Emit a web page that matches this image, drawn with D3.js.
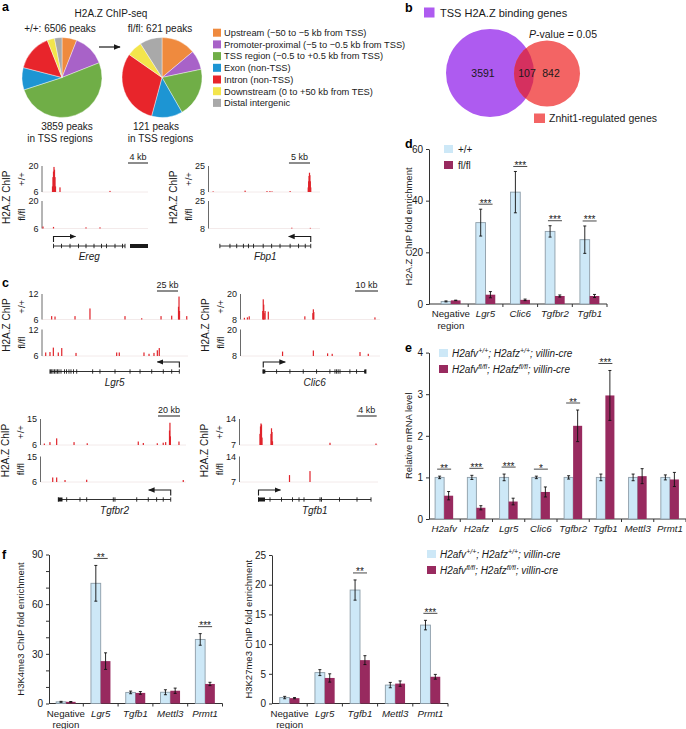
<!DOCTYPE html>
<html><head><meta charset="utf-8">
<script src="https://cdn.jsdelivr.net/npm/d3@7"></script>
<style>body{margin:0;background:#fff}svg{display:block}</style>
</head><body>
<svg id="chart" width="686" height="729"></svg>
<script>
// ================= DATA =================
const pieCategories = ["Upstream (−50 to −5 kb from TSS)","Promoter-proximal (−5 to −0.5 kb from TSS)","TSS region (−0.5 to +0.5 kb from TSS)","Exon (non-TSS)","Intron (non-TSS)","Downstream (0 to +50 kb from TES)","Distal intergenic"];
const pieColors = ["#EF8A3E","#A862C8","#70AE47","#1D95D3","#E8252B","#F3E54C","#A9A9A9"];
const pieWT = [6,13,51,9,15,3,3];
const pieKO = [13.9,7.8,20,12.5,30.5,6.3,9];
const pieTitles = ["+/+: 6506 peaks","fl/fl: 621 peaks"];
const pieTss = [["3859 peaks","in TSS regions"],["121 peaks","in TSS regions"]];

const vennSets = ["TSS H2A.Z binding genes","Znhit1-regulated genes"];
const vennCounts = [3591,107,842];

const dCats = ["Negative region","Lgr5","Clic6","Tgfbr2","Tgfb1"];
const dWT = [1.0,31.5,43.3,28.1,24.9];
const dWTerr = [0.2,5.2,8.0,2.2,5.3];
const dKO = [1.4,3.6,1.6,3.1,3.1];
const dKOerr = [0.1,1.2,0.3,0.4,0.6];
const dSig = ["","***","***","***","***"];
const dTicks = [0,20,40,60];

const eCats = ["H2afv","H2afz","Lgr5","Clic6","Tgfbr2","Tgfb1","Mettl3","Prmt1"];
const eWT = [1,1,1,1,1,1,1,1];
const eWTerr = [0.03,0.05,0.08,0.03,0.04,0.08,0.08,0.06];
const eKO = [0.56,0.27,0.42,0.65,2.24,2.97,1.03,0.95];
const eKOerr = [0.1,0.05,0.08,0.12,0.38,0.6,0.18,0.17];
const eSig = ["**","***","***","*","**","***","",""];
const eTicks = [0,1,2,3,4];

const fCats = ["Negative region","Lgr5","Tgfb1","Mettl3","Prmt1"];
const fK4WT = [1.0,72.6,6.7,6.8,38.7];
const fK4WTerr = [0.3,10.8,0.8,1.5,3.5];
const fK4KO = [1.0,25.6,6.4,7.7,11.8];
const fK4KOerr = [0.2,5.0,0.8,1.6,1.0];
const fK4Sig = ["","**","","","***"];
const fK4Ticks = [0,10,20,30,40,50,60,70,80,90];
const fK27WT = [1.0,5.2,19.1,3.1,13.2];
const fK27WTerr = [0.2,0.5,1.7,0.45,0.8];
const fK27KO = [0.9,4.3,7.3,3.35,4.5];
const fK27KOerr = [0.1,0.7,0.75,0.45,0.4];
const fK27Sig = ["","","**","","***"];
const fK27Ticks = [0,5,10,15,20,25];

// genome tracks: [position kb, signal]
const eregWT = [[2.1,9],[2.2,14],[2.3,17],[2.4,19.5],[2.5,18],[2.6,14],[2.7,9],[3.6,8.5],[13.6,6.6]];
const eregKO = [[0.2,7],[2.3,6.8],[8.8,6.6],[11.6,6.6]];
const eregExons = [2.3,3.9,5.6,7.3,8.8,10.4,11.9,12.9,14.6,16.1,16.6];
const fbp1WT = [[1.1,8.4],[8.7,8.9],[13.9,8.6],[14.6,8.6],[15.1,8.4],[19.4,8.6],[23.7,11],[23.8,15],[23.9,18.5],[24.0,20.6],[24.1,19],[24.2,15],[24.3,11]];
const fbp1KO = [[19.8,8.5],[24.2,8.4]];
const fbp1Exons = [2.7,5.1,6.7,8.3,9.5,10.7,13.0,15.0,17.0,19.4,21.4,23.0,24.3];
const lgr5WT = [[11.5,6.8],[15.5,6.7],[39.3,6.8],[57.1,8.6],[98.8,6.8],[118.7,6.3],[141.7,6.8],[154.4,6.9],[162.5,9],[163.1,11.4],[163.7,8],[172.3,6.8]];
const lgr5KO = [[4.4,6.8],[9.5,6.9],[13.5,7.9],[19.4,6.8],[23.5,7.8],[40.5,6.7],[88.9,6.8],[92.0,6.8],[121.4,6.8],[127.4,6.5],[133.3,6.7],[137.3,7.3],[139.6,7.8]];
const lgr5Exons = [9.5,11.5,13.1,14.9,16.7,18.5,20.2,22.6,26.8,29.2,32.1,34.5,37.5,41.3,60.3,69.0,86.9,104.8,116.7,130.6,144.4,154.4,163.5];
const clic6WT = [[1.7,8.8],[3.0,9],[3.8,9.5],[9.7,12],[9.9,17.5],[10.1,15],[10.3,11],[10.7,12],[12.1,11.7],[28.0,9.5],[31.5,11],[31.7,12.8],[31.9,11.5],[58.5,9]];
const clic6KO = [[18.3,10],[31.7,10.5],[37.9,9.2],[39.9,9],[52.0,9.8],[55.6,9]];
const clic6Exons = [9.9,15.7,21.5,27.3,33.1,38.9,41.1,41.8,42.5,43.3,47.6,50.5,54.6];
const tgfbr2WT = [[3.5,6.5],[8.6,7],[14.7,8.3],[30.5,7],[42.5,6.6],[88.9,7.2],[93.5,6.7],[106.2,6.6],[111.6,6.8],[113.8,7],[117.3,11],[117.7,13.7],[118.1,9],[125.9,7.2]];
const tgfbr2KO = [[11.1,7.6],[14.7,7.6],[22.3,6.7],[42.0,6.8],[129.8,6.7]];
const tgfbr2Exons = [16.2,23.8,35.9,42,66.2,67.7,87.5,98,105.6,111.6,118.4];
const tgfb1WT = [[4.1,10],[4.2,12],[4.3,12.8],[4.4,12.5],[4.5,9],[6.3,10],[6.4,11.5],[6.5,10.5],[6.6,8],[18.1,7.6],[27.3,7.4]];
const tgfb1KO = [[10.0,8.9],[14.1,10.0]];
const tgfb1Exons = [3.8,6.1,8.4,10.6,11.9,12.9,16.1,16.4,20.0,23.5,26.3];

// ================= HELPERS =================
const svg = d3.select("#chart");
const FONT = "'Liberation Sans', Arial, Helvetica, sans-serif";
const INK = "#1a1a1a";
function T(g,x,y,s,o={}){
  const t=g.append("text").attr("x",x).attr("y",y).attr("font-family",FONT)
    .attr("font-size",o.size||10).attr("fill",o.fill||INK).attr("text-anchor",o.anchor||"start");
  if(o.italic) t.attr("font-style","italic");
  if(o.bold) t.attr("font-weight","bold");
  t.text(s); return t;
}
function RT(g,cx,cy,s,o={}){
  const sz=o.size||10;
  const t=g.append("text").attr("transform",`translate(${cx+sz*0.36},${cy}) rotate(-90)`)
    .attr("text-anchor","middle").attr("font-family",FONT).attr("font-size",sz).attr("fill",o.fill||INK);
  if(o.italic) t.attr("font-style","italic");
  t.text(s); return t;
}
svg.append("defs").append("marker").attr("id","ah").attr("viewBox","0 0 10 10")
  .attr("refX",9).attr("refY",5).attr("markerWidth",6).attr("markerHeight",6).attr("orient","auto")
  .append("path").attr("d","M0,1 L10,5 L0,9 Z").attr("fill",INK);

// panel letters
[["a",2,11],["b",405,12],["c",2,287],["d",405,148],["e",405,352],["f",2,559]].forEach(l=>T(svg,l[1],l[2],l[0],{size:12.5,bold:true,fill:"#000"}));

// ================= PANEL A: PIES =================
{
  const g=svg.append("g");
  T(g,111,17,"H2A.Z ChIP-seq",{anchor:"middle",size:10});
  const pie=d3.pie().sort(null).value(d=>d);
  const arc=d3.arc().innerRadius(0).outerRadius(40);
  [[pieWT,62],[pieKO,162]].forEach((p,i)=>{
    const cg=g.append("g").attr("transform",`translate(${p[1]},77.5)`);
    cg.selectAll("path").data(pie(p[0])).join("path").attr("d",arc)
      .attr("fill",(d,j)=>pieColors[j]).attr("stroke","#fff").attr("stroke-width",0.4);
    T(g,[60,160][i],32,pieTitles[i],{anchor:"middle"});
    T(g,[67,156][i],130,pieTss[i][0],{anchor:"middle"});
    T(g,[60,160.5][i],142,pieTss[i][1],{anchor:"middle"});
  });
  g.append("line").attr("x1",99).attr("x2",120).attr("y1",47).attr("y2",47)
    .attr("stroke",INK).attr("stroke-width",1.2).attr("marker-end","url(#ah)");
  pieCategories.forEach((c,i)=>{
    const y=32.7+11.7*i;
    g.append("rect").attr("x",213).attr("y",y-4).attr("width",8).attr("height",8).attr("fill",pieColors[i]);
    T(g,224,y+3.3,c,{size:9.3});
  });
}

// ================= PANEL B: VENN =================
{
  const g=svg.append("g");
  const A={cx:490,cy:73,r:44}, B={cx:547,cy:73.5,r:33};
  g.append("clipPath").attr("id","clipA").append("circle").attr("cx",A.cx).attr("cy",A.cy).attr("r",A.r);
  g.append("circle").attr("cx",A.cx).attr("cy",A.cy).attr("r",A.r).attr("fill","#AE5BF0");
  g.append("circle").attr("cx",B.cx).attr("cy",B.cy).attr("r",B.r).attr("fill","#F36464");
  g.append("circle").attr("cx",B.cx).attr("cy",B.cy).attr("r",B.r).attr("fill","#D5305F").attr("clip-path","url(#clipA)");
  g.append("rect").attr("x",424).attr("y",7.5).attr("width",10.5).attr("height",10).attr("fill","#AE5BF0");
  T(g,440,16.5,vennSets[0],{size:11});
  g.append("rect").attr("x",534).attr("y",113.5).attr("width",11).attr("height",9.5).attr("fill","#F36464");
  T(g,549,122,vennSets[1],{size:10.5});
  T(g,483,77,vennCounts[0],{anchor:"middle",size:10.5});
  T(g,527,77,vennCounts[1],{anchor:"middle",size:10.5});
  T(g,551,77,vennCounts[2],{anchor:"middle",size:10.5});
  const pv=T(g,529,37.5,"",{size:10.5});
  pv.append("tspan").attr("font-style","italic").text("P");
  pv.append("tspan").text("-value = 0.05");
}

// ================= TRACKS =================
function locus(o){
  const g=svg.append("g");
  const xs=d3.scaleLinear().domain([0,o.span]).range([o.axisX,o.x1]);
  o.rows.forEach(r=>{
    const ys=d3.scaleLinear().domain(o.yDom).range([r.base,r.top]);
    g.append("line").attr("x1",o.axisX).attr("x2",o.x1).attr("y1",r.base).attr("y2",r.base).attr("stroke","#f0e4e4").attr("stroke-width",0.8);
    g.append("line").attr("x1",o.axisX).attr("x2",o.axisX).attr("y1",ys(o.yDom[1])).attr("y2",ys(o.yDom[0])).attr("stroke","#444").attr("stroke-width",0.8);
    o.yDom.forEach(v=>T(g,o.axisX-3.5,ys(v)+3.3,v,{anchor:"end",size:9}));
    g.selectAll(null).data(r.peaks).join("rect")
      .attr("x",d=>xs(d[0])-0.6).attr("width",1.2)
      .attr("y",d=>ys(d[1])).attr("height",d=>ys(o.yDom[0])-ys(d[1])).attr("fill","#E0242B");
    RT(g,o.axisX-20,(r.top+r.base)/2,r.label,{size:9.5});
  });
  RT(g,o.axisX-35.5,(o.rows[0].top+o.rows[1].base)/2,"H2A.Z ChIP",{size:10});
  // scale bar
  const sbLen=xs(o.scaleKb)-xs(0), sbY=o.rows[0].top-3;
  g.append("line").attr("x1",o.sbEnd-sbLen).attr("x2",o.sbEnd).attr("y1",sbY).attr("y2",sbY).attr("stroke",INK).attr("stroke-width",1);
  T(g,o.sbEnd-sbLen/2,sbY-3.5,o.scaleKb+" kb",{anchor:"middle",size:9});
  // gene model
  const gy=o.geneY, ex=o.exons, gs=xs(d3.min(ex)), ge=xs(d3.max(ex));
  g.append("line").attr("x1",gs).attr("x2",ge).attr("y1",gy).attr("y2",gy).attr("stroke",INK).attr("stroke-width",0.9);
  g.selectAll(null).data(ex).join("line").attr("x1",d=>xs(d)).attr("x2",d=>xs(d))
    .attr("y1",gy-2.2).attr("y2",gy+2.2).attr("stroke",INK).attr("stroke-width",0.9);
  (o.blocks||[]).forEach(b=>g.append("rect").attr("x",xs(b[0])).attr("width",xs(b[1])-xs(b[0])).attr("y",gy-2).attr("height",4).attr("fill",INK));
  // TSS arrow
  const tx=xs(o.tss), dir=o.strand;
  g.append("path").attr("d",`M${tx},${gy-4}V${gy-9.5}H${tx+dir*22}`).attr("fill","none")
    .attr("stroke",INK).attr("stroke-width",1.1).attr("marker-end","url(#ah)");
  T(g,(gs+ge)/2,gy+14,o.name,{anchor:"middle",italic:true,size:10});
}
locus({name:"Ereg",axisX:42,x1:148,span:21.2,yDom:[6,20],scaleKb:4,sbEnd:148,geneY:246,tss:2.3,strand:1,exons:eregExons,blocks:[[17.6,21.2]],
  rows:[{top:166,base:192,peaks:eregWT,label:"+/+"},{top:201,base:228.5,peaks:eregKO,label:"fl/fl"}]});
locus({name:"Fbp1",axisX:208.5,x1:320,span:26.5,yDom:[8,25],scaleKb:5,sbEnd:310,geneY:246,tss:24.3,strand:-1,exons:fbp1Exons,
  rows:[{top:166,base:192,peaks:fbp1WT,label:"+/+"},{top:201,base:228.5,peaks:fbp1KO,label:"fl/fl"}]});
locus({name:"Lgr5",axisX:42,x1:188,span:173.8,yDom:[6,12],scaleKb:25,sbEnd:178,geneY:371.5,tss:163.5,strand:-1,exons:lgr5Exons,blocks:[[9.5,10.5]],
  rows:[{top:294,base:319.5,peaks:lgr5WT,label:"+/+"},{top:329.5,base:356,peaks:lgr5KO,label:"fl/fl"}]});
locus({name:"Clic6",axisX:240.5,x1:380,span:60.7,yDom:[8,20],scaleKb:10,sbEnd:378,geneY:371.5,tss:9.9,strand:1,exons:clic6Exons,blocks:[[9.6,10.8],[53.8,54.6]],
  rows:[{top:294,base:319.5,peaks:clic6WT,label:"+/+"},{top:329.5,base:356,peaks:clic6KO,label:"fl/fl"}]});
locus({name:"Tgfbr2",axisX:40.5,x1:186,span:132.3,yDom:[6,15],scaleKb:20,sbEnd:180,geneY:499.5,tss:118.4,strand:-1,exons:tgfbr2Exons,blocks:[[16,20]],
  rows:[{top:419,base:445,peaks:tgfbr2WT,label:"+/+"},{top:456.5,base:482,peaks:tgfbr2KO,label:"fl/fl"}]});
locus({name:"Tgfb1",axisX:239.5,x1:378,span:27.7,yDom:[7,14],scaleKb:4,sbEnd:376.7,geneY:499.5,tss:3.8,strand:1,exons:tgfb1Exons,blocks:[[3.7,5.1]],
  rows:[{top:419,base:445,peaks:tgfb1WT,label:"+/+"},{top:456.5,base:482,peaks:tgfb1KO,label:"fl/fl"}]});

// ================= BAR CHARTS =================
const WT_FILL="#CDE8F7", WT_STROKE="#8D9DA8", KO_FILL="#982A5F";
function bars(o){
  const g=svg.append("g");
  const y=d3.scaleLinear().domain(o.yDom).range(o.yRange);
  const x=d3.scaleBand().domain(o.cats).range(o.xRange);
  const step=x.step(), bw=step*0.28;
  const ya=d3.axisLeft(y).tickValues(o.ticks).tickSize(3).tickSizeOuter(0).tickPadding(3)
    .tickFormat(v=>o.labelTicks? (o.labelTicks.includes(v)?v:"") : v);
  const ag=g.append("g").attr("transform",`translate(${o.axisX},0)`).call(ya);
  ag.select(".domain").attr("stroke","#333");
  ag.selectAll(".tick line").attr("stroke","#333");
  ag.selectAll("text").attr("font-family",FONT).attr("font-size",10).attr("fill",INK);
  const y0=y(0);
  g.append("line").attr("x1",o.axisX).attr("x2",o.xRange[1]).attr("y1",y0).attr("y2",y0).attr("stroke","#333");
  o.cats.forEach((c,i)=>{ const bx=x(c)+step; g.append("line").attr("x1",bx).attr("x2",bx).attr("y1",y0).attr("y2",y0+3).attr("stroke","#333"); });
  o.cats.forEach((c,i)=>{
    const cx=x(c)+step/2;
    g.append("rect").attr("x",cx-bw).attr("width",bw).attr("y",y(o.wt[i])).attr("height",y0-y(o.wt[i]))
      .attr("fill",WT_FILL).attr("stroke",WT_STROKE).attr("stroke-width",0.9);
    g.append("rect").attr("x",cx).attr("width",bw).attr("y",y(o.ko[i])).attr("height",y0-y(o.ko[i])).attr("fill",KO_FILL);
    [[cx-bw/2,o.wt[i],o.wtErr[i]],[cx+bw/2,o.ko[i],o.koErr[i]]].forEach(e=>{
      const t=y(e[1]+e[2]), b=y(e[1]-e[2]);
      g.append("path").attr("d",`M${e[0]},${t}V${b}M${e[0]-1.5},${t}H${e[0]+1.5}M${e[0]-1.5},${b}H${e[0]+1.5}`)
        .attr("stroke","#111").attr("stroke-width",0.9).attr("fill","none");
    });
    if(o.sig[i]){
      const top=Math.min(y(o.wt[i]+o.wtErr[i]),y(o.ko[i]+o.koErr[i]));
      const ly=top-o.sigGap;
      g.append("line").attr("x1",cx-7).attr("x2",cx+7).attr("y1",ly).attr("y2",ly).attr("stroke","#333").attr("stroke-width",0.9);
      T(g,cx,ly+2.5,o.sig[i],{anchor:"middle",size:10});
    }
    if(c==="Negative region"){
      T(g,cx,y0+13,"Negative",{anchor:"middle",size:9.7});
      T(g,cx,y0+24.5,"region",{anchor:"middle",size:9.7});
    } else T(g,cx,y0+13,c,{anchor:"middle",size:9.7,italic:true});
  });
  RT(g,o.labelX,(o.yRange[0]+o.yRange[1])/2 + (o.labelDy||0),o.ylabel,{size:9.5});
  return g;
}
bars({cats:dCats,wt:dWT,wtErr:dWTerr,ko:dKO,koErr:dKOerr,sig:dSig,yDom:[0,60],yRange:[304,149],
  xRange:[433.5,607],axisX:429,ticks:dTicks,sigGap:5,ylabel:"H2A.Z ChIP fold enrichment",labelX:409});
bars({cats:eCats,wt:eWT,wtErr:eWTerr,ko:eKO,koErr:eKOerr,sig:eSig,yDom:[0,4],yRange:[519,352.6],
  xRange:[428,686],axisX:429,ticks:eTicks,sigGap:7,ylabel:"Relative mRNA level",labelX:409});
bars({cats:fCats,wt:fK4WT,wtErr:fK4WTerr,ko:fK4KO,koErr:fK4KOerr,sig:fK4Sig,yDom:[0,90],yRange:[703.5,554.5],
  xRange:[48.5,222.5],axisX:49,ticks:fK4Ticks,labelTicks:[0,30,60,90],sigGap:7,ylabel:"H3K4me3 ChIP fold enrichment",labelX:21});
bars({cats:fCats,wt:fK27WT,wtErr:fK27WTerr,ko:fK27KO,koErr:fK27KOerr,sig:fK27Sig,yDom:[0,25],yRange:[703.5,555],
  xRange:[272,448],axisX:272,ticks:fK27Ticks,sigGap:7,ylabel:"H3K27me3 ChIP fold enrichment",labelX:249});

// legends
{
  const g=svg.append("g");
  g.append("rect").attr("x",444).attr("y",145).attr("width",9).attr("height",8).attr("fill",WT_FILL);
  T(g,458,152.5,"+/+",{size:10});
  g.append("rect").attr("x",444).attr("y",161).attr("width",9).attr("height",8).attr("fill",KO_FILL);
  T(g,458,168.5,"fl/fl",{size:10});
  function geno(x,y,sup){
    const t=T(g,x,y,"",{size:10,italic:true});
    t.append("tspan").text("H2afv");
    t.append("tspan").attr("dy",-4).attr("font-size",7).text(sup);
    t.append("tspan").attr("dy",4).text("; H2afz");
    t.append("tspan").attr("dy",-4).attr("font-size",7).text(sup);
    t.append("tspan").attr("dy",4).text("; villin-cre");
  }
  [[439,349,356.5],[427,550,557.5]].forEach(p=>{
    g.append("rect").attr("x",p[0]).attr("y",p[1]).attr("width",9).attr("height",8).attr("fill",WT_FILL);
    geno(p[0]+13,p[2],"+/+");
    g.append("rect").attr("x",p[0]).attr("y",p[1]+16).attr("width",9).attr("height",8).attr("fill",KO_FILL);
    geno(p[0]+13,p[2]+16,"fl/fl");
  });
}
</script>
</body></html>
